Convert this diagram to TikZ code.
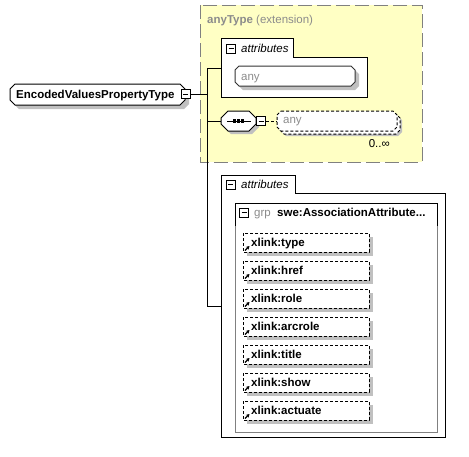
\documentclass[tikz,border=0pt]{standalone}
\usepackage{fontspec}
\setmainfont{Liberation Sans}
\usetikzlibrary{arrows.meta}
\definecolor{yel}{HTML}{FFFFC4}
\definecolor{shd}{HTML}{C0C0C0}
\definecolor{dgrey}{HTML}{808080}
\definecolor{tgrey}{HTML}{8C8C8C}
\newcommand{\fs}{\fontsize{11.5}{13.6}\selectfont}
% octagon path: x1 y1 x2 y2 chamfer
\newcommand{\octp}[5]{(#1+#5,#2) -- (#3-#5,#2) -- (#3,#2+#5) -- (#3,#4-#5) -- (#3-#5,#4) -- (#1+#5,#4) -- (#1,#4-#5) -- (#1,#2+#5) -- cycle}
\tikzset{
  txt/.style={inner sep=0pt, anchor=base west, font=\fs},
  btxt/.style={txt, font=\fs\bfseries},
  itxt/.style={txt, font=\fs\itshape},
  gtxt/.style={txt, text=tgrey},
  shadowfill/.style={fill=shd, draw=none},
  outl/.style={draw=black, line width=1pt, fill=white},
  dashoutl/.style={draw=black, line width=1pt, fill=white, dash pattern=on 3pt off 2pt},
  minusbox/.style={draw=black, fill=white, line width=0.9pt, minimum size=9pt, inner sep=0pt,
    path picture={\draw[line width=0.9pt] ([xshift=2pt]path picture bounding box.west) -- ([xshift=-2pt]path picture bounding box.east);}},
  conn/.style={draw=black, line width=1pt},
  icon/.style={draw=black, line width=1.1pt, -{Stealth[length=3.4pt,width=3.8pt]}}
}
\begin{document}
\begin{tikzpicture}[x=1pt,y=-1pt]
\useasboundingbox (0,0) rectangle (469,456);
\fill[white] (0,0) rectangle (469,456);

% extension (anyType) box
\draw[fill=yel, draw=dgrey, line width=1pt, dash pattern=on 14pt off 5pt] (200,5) rectangle (422,162);
\node[txt, text=tgrey] (anytype) at (207,23) {\textbf{anyType} (extension)};

% first attributes box
\draw[outl] (221,38) -- (293,38) -- (293,57) -- (367,57) -- (367,97) -- (221,97) -- cycle;
\node[minusbox] (m1) at (231,48.5) {};
\node[itxt] (attr1) at (241,52) {attributes};
\fill[shadowfill] \octp{239}{70}{359}{90}{4};
\draw[outl, draw=black!80] \octp{235}{66}{355}{86}{4};
\node[gtxt] (anyattr) at (241,80) {any};

% main element
\fill[shadowfill] \octp{14}{88}{189}{109}{5};
\draw[outl] \octp{10}{84}{185}{105}{5};
\node[btxt] (elem) at (16,98.5) {EncodedValuesPropertyType};
\node[minusbox] (m0) at (185.5,94) {};

% trunk connectors
\coordinate (j0) at (207,94);
\coordinate (jtop) at (207,68);
\coordinate (jseq) at (207,121);
\coordinate (jbot) at (207,306);
\coordinate (a1) at (221,68);
\coordinate (s1) at (221,121);
\coordinate (a2) at (221,306);
\draw[conn] (m0.east) -- (j0);
\draw[conn] (jtop) -- (jbot);
\draw[conn] (jtop) -- (a1);
\draw[conn] (jseq) -- (s1);
\draw[conn] (jbot) -- (a2);

% sequence
\fill[shadowfill] \octp{224}{114}{259}{134}{7};
\draw[outl] \octp{221}{111}{256}{131}{7};
\draw[line width=1pt] (227,121) -- (251,121);
\foreach \dx in {234.5,238.5,242.5} \fill (\dx-1.6,119.4) rectangle (\dx+1.6,122.6);
\node[minusbox] (ms) at (261,121) {};

% any element (0..inf)
\coordinate (anyw) at (277,121);
\draw[line width=1pt, dash pattern=on 3pt off 2pt] (ms.east) -- (anyw);
\fill[shadowfill] \octp{282}{116}{402}{136}{4};
\draw[dashoutl] \octp{280}{114}{400}{134}{4};
\draw[dashoutl] \octp{277}{111}{397}{131}{4};
\node[gtxt] (anyelem) at (283,123) {any};
\node[txt, anchor=base east] (occ) at (390,147.5) {0..∞};

% second attributes box
\draw[outl] (221,175) -- (295,175) -- (295,193) -- (445,193) -- (445,437) -- (221,437) -- cycle;
\node[minusbox] (m2) at (230.5,184.5) {};
\node[itxt] (attr2) at (241,188) {attributes};

% attribute group
\draw[draw=dgrey, line width=1pt, fill=white] (235,203) rectangle (437,432);
\draw[draw=black, line width=1pt] (235,226) -- (235,203) -- (437,203) -- (437,226);
\node[minusbox] (mg) at (244,212.5) {};
\node[gtxt] (grp) at (254,216.5) {grp};
\node[btxt] (grpname) at (277,216.5) {swe:AssociationAttribute...};

\foreach \n [count=\i from 0] in {type,href,role,arcrole,title,show,actuate} {
  \pgfmathsetmacro{\t}{233+28*\i}
  \fill[shadowfill] (247,\t+4) rectangle (373,\t+23);
  \draw[dashoutl] (243,\t) rectangle (369,\t+19);
  \node[btxt] (x\n) at (251,\t+13.5) {xlink:\n};
  \draw[icon] (245,\t+17.5) -- (249.5,\t+13);
}
\end{tikzpicture}
\end{document}
